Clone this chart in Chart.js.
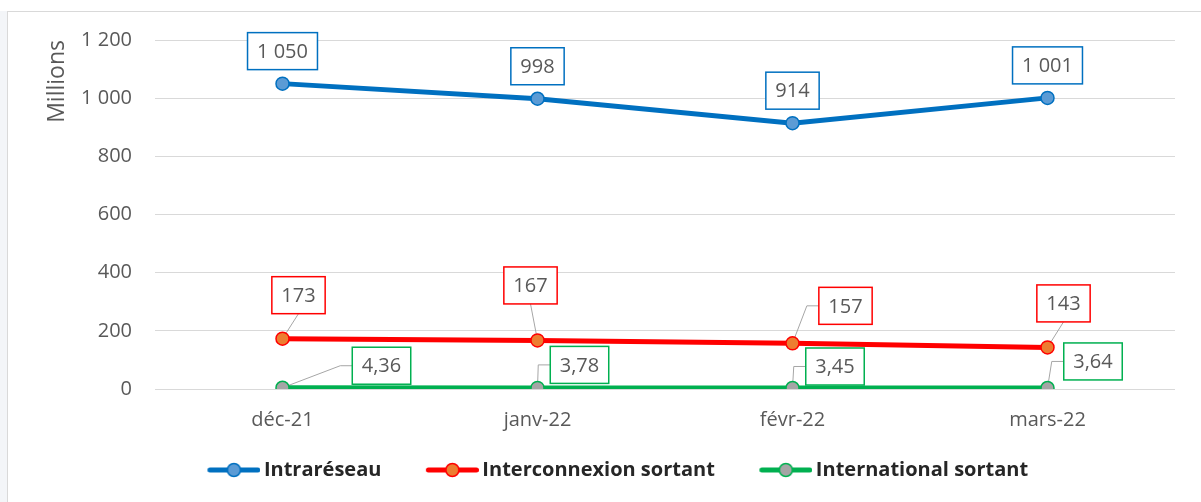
<!DOCTYPE html>
<html>
<head>
<meta charset="utf-8">
<script src="https://cdn.jsdelivr.net/npm/chart.js@4.4.0/dist/chart.umd.min.js"></script>
<style>
    body { margin: 0; background: #ffffff; }
    #wrap { position: relative; width: 1201px; height: 502px; overflow: hidden; }
    #strip { position: absolute; left: 0; top: 11px; width: 7px; height: 491px; background: #f3f5f8; }
    #frame { position: absolute; left: 7px; top: 11px; right: 0; bottom: 0; border-left: 1px solid #d9d9d9; border-top: 1px solid #d9d9d9; }
    canvas { position: absolute; left: 0; top: 0; }
</style>
</head>
<body>
<div id="wrap">
    <div id="strip"></div>
    <div id="frame"></div>
    <canvas id="trafficChart" width="1201" height="502"></canvas>
</div>
<script>
// Chart data
const categories = ['déc-21', 'janv-22', 'févr-22', 'mars-22'];
const intrareseau = [1050, 998, 914, 1001];
const interconnexion = [173, 167, 157, 143];
const international = [4.36, 3.78, 3.45, 3.64];
const seriesNames = ['Intraréseau', 'Interconnexion sortant', 'International sortant'];

// Label box placement (pixels from the point), one row per series
const labelOffsets = [
    [[0, -32.5], [0, -32.5], [0, -32.5], [0, -32.5]],
    [[16, -43.5], [-7, -55], [53, -37.5], [16, -44]],
    [[99, -22], [42, -23], [42.5, -21.5], [45.5, -26.5]]
];

const FONT = "'Open Sans', sans-serif";
const TEXT_GRAY = '#595959';

// French number format: 1 050 / 4,36
function fmt(v) {
    const s = Number.isInteger(v) ? String(v) : v.toFixed(2);
    const parts = s.split('.');
    const intPart = parts[0].replace(/\B(?=(\d{3})+(?!\d))/g, ' ');
    return intPart + (parts[1] ? ',' + parts[1] : '');
}

// Legend symbol: line with marker, drawn at the right of a wider image
// so the blank left part widens the gap between legend items
function legendSymbol(lineColor, fillColor) {
    const c = document.createElement('canvas');
    c.width = 76;
    c.height = 18;
    const g = c.getContext('2d');
    const s = 22.5;
    g.strokeStyle = lineColor;
    g.lineWidth = 5;
    g.lineCap = 'round';
    g.beginPath();
    g.moveTo(s + 3, 9);
    g.lineTo(s + 51, 9);
    g.stroke();
    g.beginPath();
    g.arc(s + 27, 9, 6.5, 0, Math.PI * 2);
    g.fillStyle = fillColor;
    g.fill();
    g.lineWidth = 1.5;
    g.stroke();
    return c;
}

const lineColors = ['#0070c0', '#ff0000', '#00b050'];
const markerColors = ['#5b9bd5', '#ed7d31', '#a5a5a5'];
const symbols = lineColors.map((c, i) => legendSymbol(c, markerColors[i]));

function boxGeometry(ctx, el, value, offset) {
    const text = fmt(value);
    ctx.font = '20px ' + FONT;
    const w = ctx.measureText(text).width + 19;
    const h = 37;
    const cx = el.x + offset[0];
    const cy = el.y + offset[1];
    return { text, cx, cy, left: cx - w / 2, top: cy - h / 2, w, h };
}

// Data labels with boxes and leader lines
const boxLabels = {
    id: 'boxLabels',
    beforeDatasetsDraw(chart) {
        const ctx = chart.ctx;
        ctx.save();
        ctx.strokeStyle = '#a6a6a6';
        ctx.lineWidth = 1;
        chart.data.datasets.forEach((ds, i) => {
            if (i === 0) return;
            chart.getDatasetMeta(i).data.forEach((el, j) => {
                const b = boxGeometry(ctx, el, ds.data[j], labelOffsets[i][j]);
                ctx.beginPath();
                ctx.moveTo(el.x, el.y);
                if (el.x >= b.left && el.x <= b.left + b.w) {
                    ctx.lineTo(b.cx, b.top + b.h);
                } else {
                    ctx.lineTo(b.left - 12, b.cy);
                    ctx.lineTo(b.left, b.cy);
                }
                ctx.stroke();
            });
        });
        ctx.restore();
    },
    afterDatasetsDraw(chart) {
        const ctx = chart.ctx;
        ctx.save();
        chart.data.datasets.forEach((ds, i) => {
            chart.getDatasetMeta(i).data.forEach((el, j) => {
                const b = boxGeometry(ctx, el, ds.data[j], labelOffsets[i][j]);
                ctx.fillStyle = '#ffffff';
                ctx.fillRect(b.left, b.top, b.w, b.h);
                ctx.strokeStyle = lineColors[i];
                ctx.lineWidth = 1.5;
                ctx.strokeRect(b.left, b.top, b.w, b.h);
                ctx.fillStyle = TEXT_GRAY;
                ctx.textAlign = 'center';
                ctx.textBaseline = 'middle';
                ctx.fillText(b.text, b.cx, b.cy + 1);
            });
        });
        ctx.restore();
    }
};

function makeDataset(i, data) {
    return {
        label: seriesNames[i],
        data: data,
        borderColor: lineColors[i],
        backgroundColor: markerColors[i],
        borderWidth: 5,
        pointRadius: 6.5,
        pointBorderWidth: 1.5,
        pointBackgroundColor: markerColors[i],
        pointBorderColor: lineColors[i],
        tension: 0
    };
}

new Chart(document.getElementById('trafficChart'), {
    type: 'line',
    data: {
        labels: categories,
        datasets: [
            makeDataset(0, intrareseau),
            makeDataset(1, interconnexion),
            makeDataset(2, international)
        ]
    },
    plugins: [boxLabels],
    options: {
        responsive: false,
        animation: false,
        layout: { padding: { left: 44, right: 26, top: 40, bottom: 12 } },
        plugins: {
            tooltip: { enabled: false },
            legend: {
                position: 'bottom',
                labels: {
                    usePointStyle: true,
                    pointStyleWidth: 63,
                    padding: 28,
                    color: '#262626',
                    font: { family: FONT, size: 20, weight: 'bold' },
                    generateLabels(chart) {
                        const items = Chart.defaults.plugins.legend.labels.generateLabels(chart);
                        items.forEach((it, k) => { it.pointStyle = symbols[k]; });
                        return items;
                    }
                }
            }
        },
        scales: {
            x: {
                offset: true,
                grid: { display: false, drawTicks: false },
                border: { display: false },
                ticks: { color: TEXT_GRAY, font: { family: FONT, size: 20 }, padding: 19 },
                afterFit(scale) { scale.height = 43; }
            },
            y: {
                min: 0,
                max: 1200,
                grid: { color: '#d9d9d9', lineWidth: 1, drawTicks: false },
                border: { display: false },
                ticks: {
                    stepSize: 200,
                    color: TEXT_GRAY,
                    font: { family: FONT, size: 20 },
                    padding: 23,
                    callback: (v) => fmt(v)
                },
                title: {
                    display: true,
                    text: 'Millions',
                    align: 'end',
                    color: TEXT_GRAY,
                    font: { family: FONT, size: 23 },
                    padding: 0
                },
                afterFit(scale) { scale.width = 111; }
            }
        }
    }
});
</script>
</body>
</html>
